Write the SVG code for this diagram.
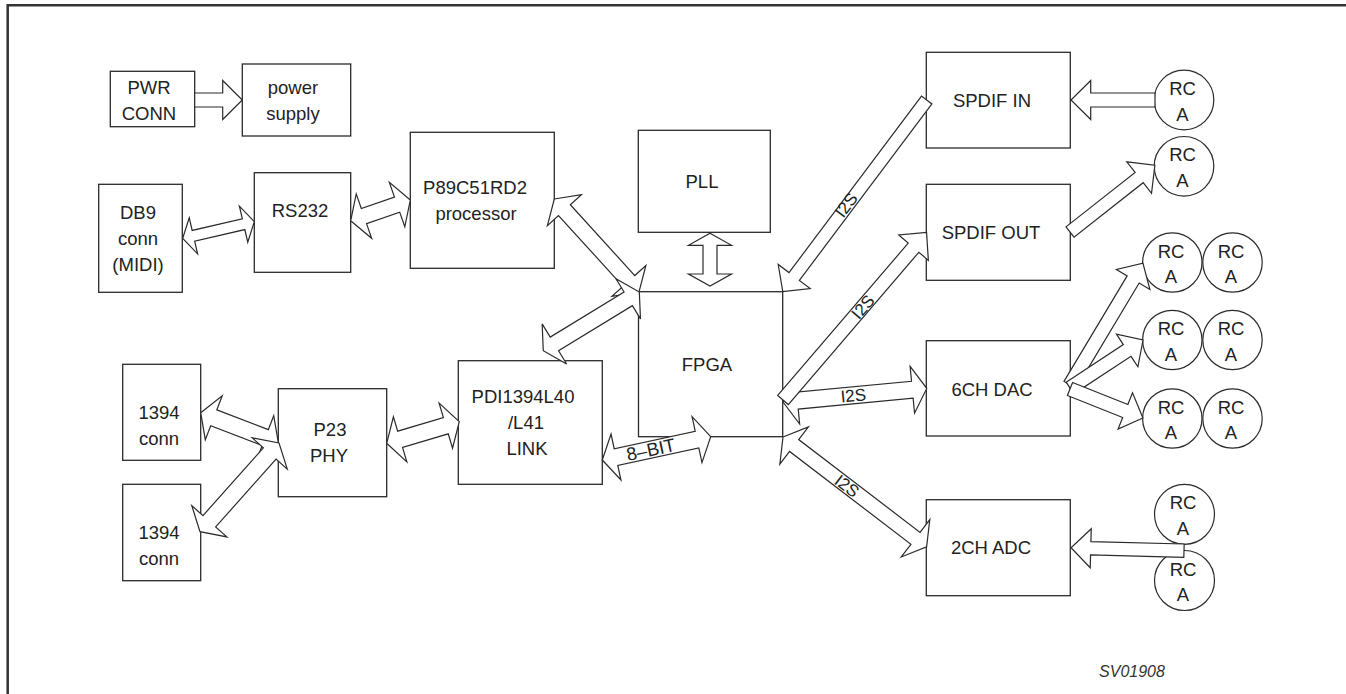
<svg xmlns="http://www.w3.org/2000/svg" width="1346" height="694" viewBox="0 0 1346 694">
<style>
.box{fill:#fff;stroke:#2a2a2a;stroke-width:1.3}
.rca{fill:#fff;stroke:#2a2a2a;stroke-width:1.2}
.arr{fill:#fff;stroke:#2a2a2a;stroke-width:1.2;stroke-linejoin:miter}
.t{font-family:"Liberation Sans",Arial,sans-serif;font-size:18.5px;fill:#222;text-anchor:middle}
.lbl{font-family:"Liberation Sans",Arial,sans-serif;font-size:17px;fill:#222;text-anchor:middle}
.big{font-size:18.5px}
.id{font-family:"Liberation Sans",Arial,sans-serif;font-size:16px;font-style:italic;fill:#333;text-anchor:middle}
.frame{fill:none;stroke:#333;stroke-width:2.5}
</style>
<rect width="1346" height="694" fill="#fff"/>
<path class="frame" d="M7.7,694 V5.2 H1346"/>

<g id="pwr-conn"><rect class="box" x="110.3" y="71.3" width="84.4" height="55.4"/><text class="t" x="149" y="94.3">PWR</text><text class="t" x="149" y="120">CONN</text></g>
<g id="power-supply"><rect class="box" x="242.3" y="64" width="108.4" height="72"/><text class="t" x="293" y="94.3">power</text><text class="t" x="293" y="120">supply</text></g>
<g id="db9"><rect class="box" x="98.7" y="184.3" width="83.6" height="108"/><text class="t" x="138" y="219">DB9</text><text class="t" x="138" y="245">conn</text><text class="t" x="138" y="270.7">(MIDI)</text></g>
<g id="rs232"><rect class="box" x="254.3" y="172.7" width="96.4" height="99.6"/><text class="t" x="300" y="216.7">RS232</text></g>
<g id="p89"><rect class="box" x="410.3" y="132.3" width="144" height="136"/><text class="t" x="475" y="194.3">P89C51RD2</text><text class="t" x="476" y="220">processor</text></g>
<g id="pll"><rect class="box" x="638.3" y="130.3" width="132" height="102"/><text class="t" x="702" y="188">PLL</text></g>
<g id="fpga"><rect class="box" x="638.5" y="291.7" width="144.2" height="145"/><text class="t" x="707" y="371">FPGA</text></g>
<g id="pdi"><rect class="box" x="458.3" y="360.7" width="144" height="123.6"/><text class="t" x="523" y="403.3">PDI1394L40</text><text class="t" x="526" y="429.3">/L41</text><text class="t" x="527" y="455">LINK</text></g>
<g id="conn1394a"><rect class="box" x="122.7" y="364.3" width="78" height="96"/><text class="t" x="159" y="419.3">1394</text><text class="t" x="159" y="445">conn</text></g>
<g id="conn1394b"><rect class="box" x="122.7" y="484.3" width="78" height="96.4"/><text class="t" x="159" y="539.3">1394</text><text class="t" x="159" y="565">conn</text></g>
<g id="p23"><rect class="box" x="278.3" y="388.7" width="108.4" height="108"/><text class="t" x="330" y="436">P23</text><text class="t" x="329" y="462">PHY</text></g>
<g id="spdif-in"><rect class="box" x="926.3" y="52.3" width="144" height="95.7"/><text class="t" x="992" y="107.3">SPDIF IN</text></g>
<g id="spdif-out"><rect class="box" x="926.3" y="184.3" width="144" height="96"/><text class="t" x="991" y="239">SPDIF OUT</text></g>
<g id="dac"><rect class="box" x="926.3" y="340.7" width="144" height="95.3"/><text class="t" x="992" y="395.7">6CH DAC</text></g>
<g id="adc"><rect class="box" x="926.3" y="499.7" width="144" height="96"/><text class="t" x="991" y="554.3">2CH ADC</text></g>

<g id="rca-in"><circle class="rca" cx="1184" cy="100" r="29.8"/><text class="t" x="1182.5" y="95">RC</text><text class="t" x="1182.5" y="120.7">A</text></g>
<g id="rca-out"><circle class="rca" cx="1184" cy="166.3" r="29.8"/><text class="t" x="1182.5" y="161.3">RC</text><text class="t" x="1182.5" y="187">A</text></g>
<g id="rca-dac1a"><circle class="rca" cx="1172.3" cy="262.5" r="29.7"/><text class="t" x="1171" y="257.5">RC</text><text class="t" x="1171" y="283.2">A</text></g>
<g id="rca-dac1b"><circle class="rca" cx="1232.5" cy="262.5" r="29.7"/><text class="t" x="1231" y="257.5">RC</text><text class="t" x="1231" y="283.2">A</text></g>
<g id="rca-dac2a"><circle class="rca" cx="1172.3" cy="340" r="29.7"/><text class="t" x="1171" y="335">RC</text><text class="t" x="1171" y="360.7">A</text></g>
<g id="rca-dac2b"><circle class="rca" cx="1232.5" cy="340" r="29.7"/><text class="t" x="1231" y="335">RC</text><text class="t" x="1231" y="360.7">A</text></g>
<g id="rca-dac3a"><circle class="rca" cx="1172.3" cy="418.5" r="29.7"/><text class="t" x="1171" y="413.5">RC</text><text class="t" x="1171" y="439.2">A</text></g>
<g id="rca-dac3b"><circle class="rca" cx="1232.5" cy="418.5" r="29.7"/><text class="t" x="1231" y="413.5">RC</text><text class="t" x="1231" y="439.2">A</text></g>
<g id="rca-adc1"><circle class="rca" cx="1184.5" cy="514.3" r="30"/><text class="t" x="1183" y="509.3">RC</text><text class="t" x="1183" y="535">A</text></g>
<g id="rca-adc2"><circle class="rca" cx="1184.5" cy="580.5" r="30"/><text class="t" x="1183" y="575.5">RC</text><text class="t" x="1183" y="601.2">A</text></g>

<g id="connectors">
<g transform="translate(194.7,100)"><polygon class="arr" points="0,-7 28,-7 28,-19.5 47.6,0 28,19.5 28,7 0,7"/></g>
<g transform="translate(182.7,238.3) rotate(-13.05)"><polygon class="arr" points="0,0 11,-18.5 11,-5.5 62.5,-5.5 62.5,-18.5 73.5,0 62.5,18.5 62.5,5.5 11,5.5 11,18.5"/></g>
<g transform="translate(350.7,220.7) rotate(-19.15)"><polygon class="arr" points="0,0 14,-23.5 14,-8 49.1,-8 49.1,-23.5 63.1,0 49.1,23.5 49.1,8 14,8 14,23.5"/></g>
<g transform="translate(554.3,199) rotate(47.7)"><polygon class="arr" points="0,0 15,-23 15,-8 110.8,-8 110.8,-23 125.8,0 110.8,23 110.8,8 15,8 15,23"/></g>
<g transform="translate(710,233.3) rotate(90)"><polygon class="arr" points="0,0 12,-21.5 12,-7 40.7,-7 40.7,-21.5 52.7,0 40.7,21.5 40.7,7 12,7 12,21.5"/></g>
<g transform="translate(543.3,350.7) rotate(-31.4)"><polygon class="arr" points="0,0 13,-23.5 13,-8 99.5,-8 99.5,-23.5 112.5,0 99.5,23.5 99.5,8 13,8 13,23.5"/></g>
<g transform="translate(602.3,460) rotate(-12.13)"><polygon class="arr" points="0,0 14,-23.5 14,-8.5 96.9,-8.5 96.9,-23.5 110.9,0 96.9,23.5 96.9,8.5 14,8.5 14,23.5"/><text class="lbl big" x="49.6" y="6.5">8–BIT</text></g>
<g transform="translate(386.7,443.3) rotate(-16.6)"><polygon class="arr" points="0,0 14,-23.5 14,-8.5 61.7,-8.5 61.7,-23.5 75.7,0 61.7,23.5 61.7,8.5 14,8.5 14,23.5"/></g>
<g transform="translate(200.7,412.7) rotate(21.1)"><polygon class="arr" points="0,0 14,-23.5 14,-8.5 69.2,-8.5 69.2,-23.5 83.2,0 69.2,23.5 69.2,8.5 14,8.5 14,23.5"/></g>
<g transform="translate(200,531.7) rotate(-48.3)"><polygon class="arr" points="0,0 14,-23.5 14,-8.5 104.8,-8.5 104.8,-23.5 118.8,0 104.8,23.5 104.8,8.5 14,8.5 14,23.5"/></g>
<g transform="translate(926.7,100) rotate(126.9)"><polygon class="arr" points="0,-6.5 220.7,-6.5 220.7,-20 239.7,0 220.7,20 220.7,6.5 0,6.5"/></g>
<text class="lbl" x="0" y="6" transform="translate(846,205) rotate(-53.1)">I2S</text>
<g transform="translate(783,402) rotate(-5.4)"><polygon class="arr" points="0,0 14.5,-23.5 14.5,-8.5 129.9,-8.5 129.9,-23.5 144.4,0 129.9,23.5 129.9,8.5 14.5,8.5 14.5,23.5"/><text class="lbl" x="70.6" y="6">I2S</text></g>
<g transform="translate(783,400) rotate(-49.4)"><polygon class="arr" points="0,-7 200.6,-7 200.6,-19.5 220.6,0 200.6,19.5 200.6,7 0,7"/><text class="lbl" x="122.7" y="6">I2S</text></g>
<g transform="translate(783,437) rotate(37.4)"><polygon class="arr" points="0,0 14,-23.5 14,-7.5 166.8,-7.5 166.8,-23.5 180.8,0 166.8,23.5 166.8,7.5 14,7.5 14,23.5"/><text class="lbl" x="80.5" y="6">I2S</text></g>
<g transform="translate(1155,100) rotate(180)"><polygon class="arr" points="0,-7 64.3,-7 64.3,-19.5 84,0 64.3,19.5 64.3,7 0,7"/></g>
<g transform="translate(1070,232) rotate(-38.2)"><polygon class="arr" points="0,-6.5 88,-6.5 88,-20 108,0 88,20 88,6.5 0,6.5"/></g>
<g transform="translate(1070,385) rotate(-59.1)"><polygon class="arr" points="0,-7 123,-7 123,-19.5 142,0 123,19.5 123,7 0,7"/></g>
<g transform="translate(1070,388) rotate(-33.3)"><polygon class="arr" points="0,-7 68.4,-7 68.4,-19.5 87.4,0 68.4,19.5 68.4,7 0,7"/></g>
<g transform="translate(1070,389) rotate(21.7)"><polygon class="arr" points="0,-7 59.5,-7 59.5,-19.5 78.5,0 59.5,19.5 59.5,7 0,7"/></g>
<g transform="translate(1184,550.7) rotate(181.5)"><polygon class="arr" points="0,-6.7 93.3,-6.7 93.3,-19.5 113,0 93.3,19.5 93.3,6.7 0,6.7"/></g>
</g>

<text class="id" x="1132" y="676.5">SV01908</text>
</svg>
